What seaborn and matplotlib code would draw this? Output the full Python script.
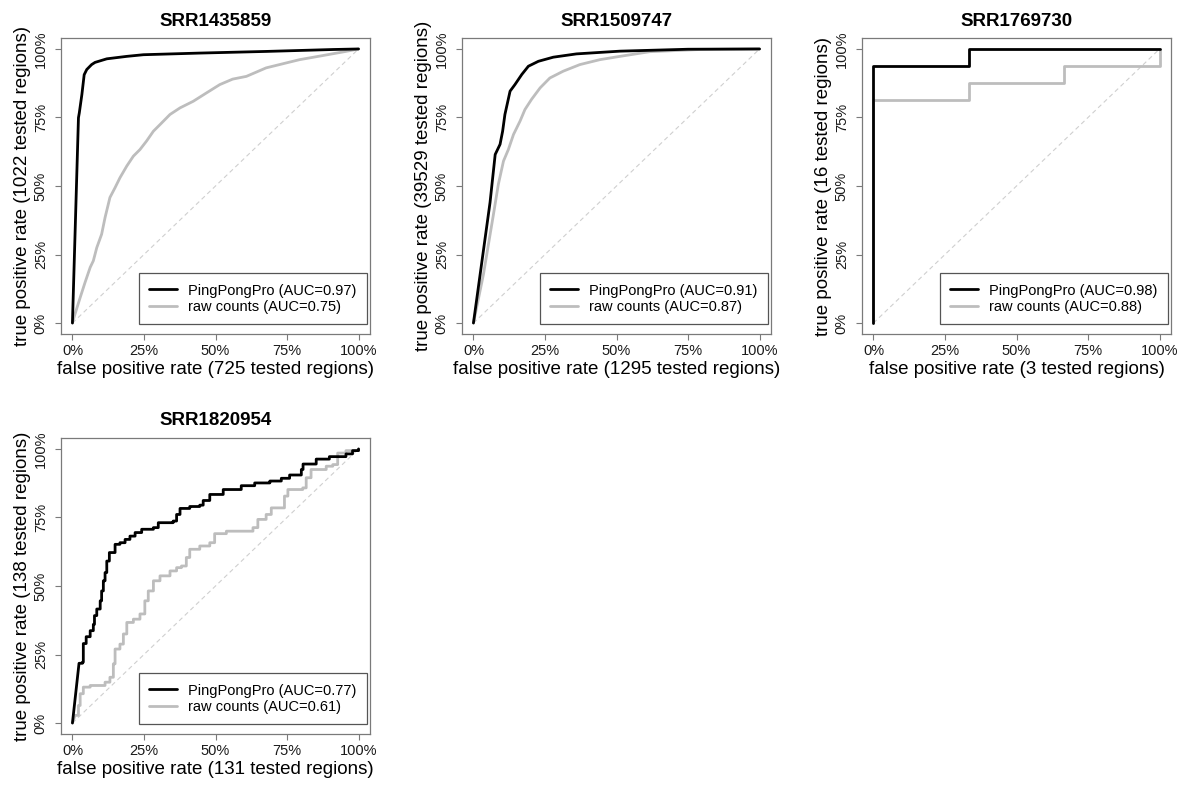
import matplotlib
matplotlib.use("Agg")
import matplotlib.pyplot as plt
from matplotlib.lines import Line2D
import seaborn as sns

# ---------------- data ----------------
TITLES = ["SRR1435859", "SRR1509747", "SRR1769730", "SRR1820954"]
NEG_COUNTS = [725, 1295, 3, 131]
POS_COUNTS = [1022, 39529, 16, 138]
AUC_PPP = [0.97, 0.91, 0.98, 0.77]
AUC_RAW = [0.75, 0.87, 0.88, 0.61]
TICKS = [0, 0.25, 0.5, 0.75, 1.0]
TICK_LABELS = ["0%", "25%", "50%", "75%", "100%"]
DIAG = [0.0, 1.0]

# panel 1
P1_PPP_FPR = [0, 0.021, 0.024, 0.033, 0.041, 0.05, 0.067, 0.079, 0.12, 0.19, 0.248, 0.445, 0.677, 0.91, 1.0]
P1_PPP_TPR = [0, 0.749, 0.767, 0.834, 0.906, 0.925, 0.943, 0.951, 0.964, 0.973, 0.979, 0.985, 0.991, 0.998, 1.0]
P1_RAW_FPR = [0, 0.009, 0.027, 0.044, 0.062, 0.073, 0.085, 0.102, 0.114, 0.131, 0.149, 0.166, 0.19, 0.213,
              0.236, 0.259, 0.283, 0.306, 0.341, 0.376, 0.422, 0.469, 0.515, 0.56, 0.608, 0.677, 0.747,
              0.794, 0.87, 0.95, 1.0]
P1_RAW_TPR = [0, 0.033, 0.093, 0.148, 0.203, 0.227, 0.275, 0.324, 0.385, 0.458, 0.494, 0.53, 0.573, 0.609,
              0.633, 0.664, 0.7, 0.724, 0.761, 0.785, 0.809, 0.84, 0.870, 0.89, 0.9, 0.931, 0.949,
              0.961, 0.975, 0.99, 1.0]

# panel 2
P2_PPP_FPR = [0, 0.058, 0.076, 0.093, 0.102, 0.11, 0.128, 0.145, 0.169, 0.192, 0.227, 0.279, 0.36, 0.512, 0.75, 1.0]
P2_PPP_TPR = [0, 0.44, 0.615, 0.652, 0.7, 0.761, 0.846, 0.87, 0.907, 0.937, 0.955, 0.97, 0.982, 0.992, 0.999, 1.0]
P2_RAW_FPR = [0, 0.035, 0.07, 0.087, 0.105, 0.122, 0.14, 0.163, 0.18, 0.203, 0.233, 0.267, 0.314, 0.372,
              0.442, 0.512, 0.616, 0.79, 1.0]
P2_RAW_TPR = [0, 0.178, 0.397, 0.506, 0.591, 0.633, 0.688, 0.737, 0.779, 0.816, 0.858, 0.894, 0.919, 0.943,
              0.961, 0.973, 0.99, 0.998, 1.0]

# panel 3 (step corners)
P3_PPP_FPR = [0, 0, 0.3333, 0.3333, 1.0]
P3_PPP_TPR = [0, 0.9375, 0.9375, 1.0, 1.0]
P3_RAW_FPR = [0, 0, 0.3333, 0.3333, 0.6667, 0.6667, 1.0, 1.0]
P3_RAW_TPR = [0, 0.8125, 0.8125, 0.875, 0.875, 0.9375, 0.9375, 1.0]

# panel 4 (step points)
P4_PPP_FPR = [0, 0.023, 0.035, 0.038, 0.048, 0.062, 0.073, 0.077, 0.085, 0.097, 0.102, 0.108, 0.114, 0.12,
              0.129, 0.149, 0.166, 0.184, 0.201, 0.219, 0.242, 0.283, 0.3, 0.352, 0.364, 0.376, 0.41,
              0.445, 0.457, 0.48, 0.527, 0.59, 0.637, 0.69, 0.73, 0.759, 0.8, 0.806, 0.852, 0.898,
              0.956, 0.979, 1.0]
P4_PPP_TPR = [0, 0.218, 0.222, 0.29, 0.315, 0.337, 0.36, 0.392, 0.416, 0.446, 0.482, 0.519, 0.549, 0.591,
              0.622, 0.652, 0.658, 0.67, 0.682, 0.695, 0.707, 0.713, 0.731, 0.737, 0.761, 0.783, 0.79,
              0.795, 0.812, 0.834, 0.852, 0.866, 0.876, 0.883, 0.893, 0.905, 0.925, 0.945, 0.963, 0.972,
              0.982, 0.994, 1.0]
P4_RAW_FPR = [0, 0.009, 0.021, 0.027, 0.038, 0.062, 0.097, 0.114, 0.131, 0.143, 0.149, 0.166, 0.178, 0.19,
              0.213, 0.236, 0.253, 0.265, 0.283, 0.306, 0.341, 0.364, 0.381, 0.398, 0.41, 0.445, 0.48,
              0.497, 0.538, 0.59, 0.631, 0.648, 0.677, 0.695, 0.741, 0.753, 0.805, 0.817, 0.834, 0.887,
              0.91, 0.927, 0.956, 1.0]
P4_RAW_TPR = [0, 0.028, 0.064, 0.107, 0.131, 0.137, 0.137, 0.149, 0.167, 0.216, 0.27, 0.288, 0.325, 0.367,
              0.379, 0.398, 0.446, 0.482, 0.519, 0.537, 0.555, 0.567, 0.573, 0.604, 0.634, 0.646, 0.658,
              0.691, 0.7, 0.7, 0.713, 0.743, 0.761, 0.785, 0.828, 0.852, 0.858, 0.895, 0.925, 0.937,
              0.943, 0.985, 0.994, 1.0]


def staircase(fpr, tpr):
    """Turn step points into a horizontal-then-vertical path (first segment kept as is)."""
    xs, ys = [fpr[0], fpr[1]], [tpr[0], tpr[1]]
    for i in range(2, len(fpr)):
        xs.append(fpr[i]); ys.append(tpr[i - 1])
        xs.append(fpr[i]); ys.append(tpr[i])
    return xs, ys


p4b = staircase(P4_PPP_FPR, P4_PPP_TPR)
p4g = staircase(P4_RAW_FPR, P4_RAW_TPR)

CURVES = [
    ((P1_PPP_FPR, P1_PPP_TPR), (P1_RAW_FPR, P1_RAW_TPR)),
    ((P2_PPP_FPR, P2_PPP_TPR), (P2_RAW_FPR, P2_RAW_TPR)),
    ((P3_PPP_FPR, P3_PPP_TPR), (P3_RAW_FPR, P3_RAW_TPR)),
    (p4b, p4g),
]

# ---------------- style ----------------
sns.set_theme(style="ticks")
plt.rcParams["font.family"] = ["Liberation Sans", "DejaVu Sans"]
plt.rcParams["text.color"] = "black"
plt.rcParams["axes.labelcolor"] = "black"

BLACK = "#000000"
GRAY = "#bdbdbd"
FRAME = "#7a7a7a"

fig = plt.figure(figsize=(11.84, 7.87), dpi=100)

W, H = 309 / 1184, 296 / 787
positions = [
    (61 / 1184, 1 - 334 / 787),
    (462 / 1184, 1 - 334 / 787),
    (862 / 1184, 1 - 334 / 787),
    (61 / 1184, 1 - 734 / 787),
]

for i in range(4):
    ax = fig.add_axes([positions[i][0], positions[i][1], W, H])
    (bx, by), (gx, gy) = CURVES[i]
    sns.lineplot(x=DIAG, y=DIAG, ax=ax, color="#cfcfcf", linewidth=0.8,
                 linestyle=(0, (4, 3)), estimator=None, sort=False, legend=False)
    sns.lineplot(x=gx, y=gy, ax=ax, color=GRAY, linewidth=2.0, estimator=None, sort=False,
                 legend=False)
    sns.lineplot(x=bx, y=by, ax=ax, color=BLACK, linewidth=2.0, estimator=None, sort=False,
                 legend=False)

    ax.set_xlim(-0.04, 1.04)
    ax.set_ylim(-0.04, 1.04)
    ax.set_xticks(TICKS)
    ax.set_xticklabels(TICK_LABELS)
    ax.set_yticks(TICKS)
    ax.set_yticklabels(TICK_LABELS, rotation=90, va="center")
    ax.tick_params(axis="both", length=4.5, width=0.8, color=FRAME, labelsize=10.5,
                   labelcolor="#1a1a1a", direction="out")
    ax.tick_params(axis="x", pad=3)
    ax.tick_params(axis="y", pad=5)
    for s in ax.spines.values():
        s.set_visible(True)
        s.set_color(FRAME)
        s.set_linewidth(0.9)

    ax.set_title(TITLES[i], fontsize=13.5, fontweight="bold", pad=9, color="black")
    ax.set_xlabel(f"false positive rate ({NEG_COUNTS[i]} tested regions)", fontsize=13.5,
                  labelpad=2, color="black")
    ax.set_ylabel(f"true positive rate ({POS_COUNTS[i]} tested regions)", fontsize=13.5,
                  labelpad=2, color="black")

    handles = [Line2D([], [], color=BLACK, linewidth=2.0),
               Line2D([], [], color=GRAY, linewidth=2.0)]
    labels = [f"PingPongPro (AUC={AUC_PPP[i]:.2f})", f"raw counts (AUC={AUC_RAW[i]:.2f})"]
    leg = ax.legend(handles, labels, loc="lower right", bbox_to_anchor=(0.99, 0.034),
                    fontsize=10.5, frameon=True, fancybox=False, framealpha=1,
                    edgecolor="#555555", handlelength=1.9, handletextpad=0.8,
                    borderpad=0.7, labelspacing=0.15, borderaxespad=0)
    leg.get_frame().set_linewidth(0.9)
    for t in leg.get_texts():
        t.set_color("black")

fig.savefig("out.png", dpi=100)
